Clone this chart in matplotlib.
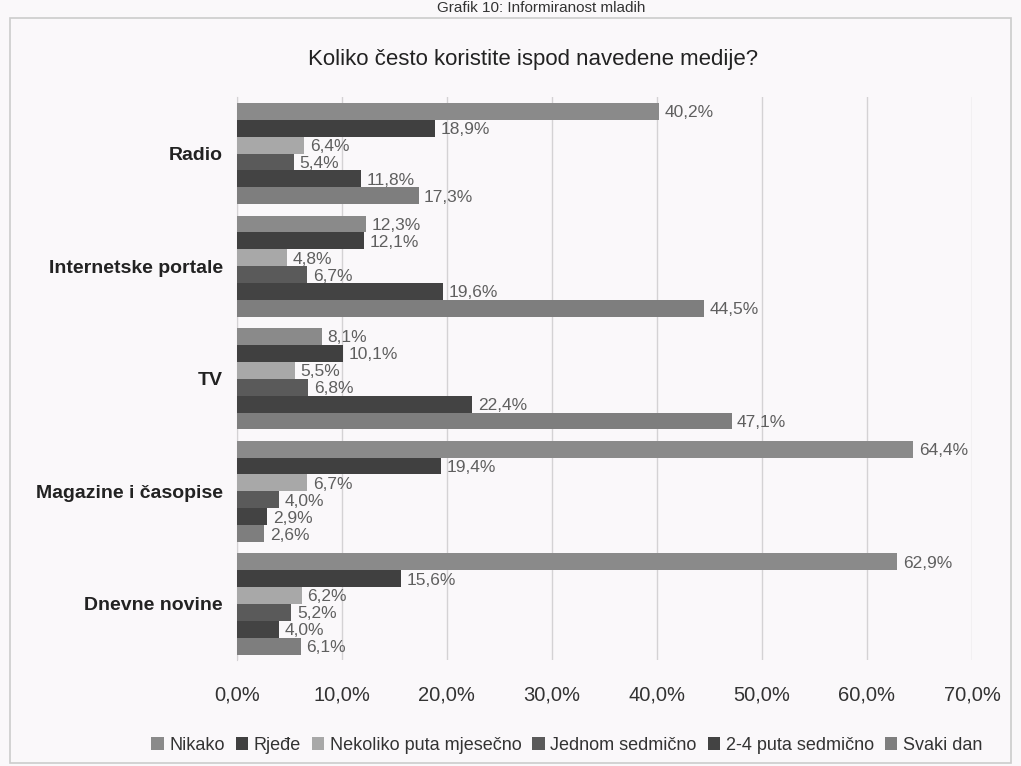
import matplotlib
matplotlib.use("Agg")
import matplotlib.pyplot as plt
from matplotlib.patches import Rectangle
import numpy as np

categories = ["Radio", "Internetske portale", "TV", "Magazine i časopise", "Dnevne novine"]
series_names = ["Nikako", "Rjeđe", "Nekoliko puta mjesečno", "Jednom sedmično",
                "2-4 puta sedmično", "Svaki dan"]
nikako = [40.2, 12.3, 8.1, 64.4, 62.9]
rjedje = [18.9, 12.1, 10.1, 19.4, 15.6]
nekoliko = [6.4, 4.8, 5.5, 6.7, 6.2]
jednom = [5.4, 6.7, 6.8, 4.0, 5.2]
dva_cetiri = [11.8, 19.6, 22.4, 2.9, 4.0]
svaki_dan = [17.3, 44.5, 47.1, 2.6, 6.1]
xticks = [0, 10, 20, 30, 40, 50, 60, 70]

series = [nikako, rjedje, nekoliko, jednom, dva_cetiri, svaki_dan]
colors = ["#8a8a8a", "#404040", "#a8a8a8", "#5a5a5a", "#434343", "#7e7e7e"]

plt.rcParams['font.family'] = ['Liberation Sans', 'DejaVu Sans']
bg = "#faf8fa"
fig = plt.figure(figsize=(10.21, 7.66), dpi=100, facecolor=bg)
ax = fig.add_axes([0.232, 0.138, 0.720, 0.735], facecolor=bg)

n_cat = len(categories)
bh = 0.15
centers = np.arange(n_cat)[::-1]  # Radio at top
for j, (vals, col, name) in enumerate(zip(series, colors, series_names)):
    ys = centers + (2.5 - j) * bh
    ax.barh(ys, vals, height=bh, color=col, label=name, zorder=3)
    for y, v in zip(ys, vals):
        ax.annotate(f"{v:.1f}%".replace(".", ","), (v, y), xytext=(4, -1),
                    textcoords="offset points", va="center", ha="left",
                    fontsize=12.5, color="#5f5f5f", zorder=4)

ax.set_xlim(0, 70)
ax.set_ylim(-0.5, n_cat - 0.5)
ax.set_xticks(xticks)
ax.set_xticklabels([f"{t:.1f}%".replace(".", ",") for t in xticks], fontsize=14.5,
                   color="#333333")
ax.set_yticks(centers)
ax.set_yticklabels(categories, fontsize=14, color="#222222", fontweight="bold")
ax.tick_params(axis="both", length=0, pad=10)
ax.tick_params(axis="x", pad=18)
ax.grid(axis="x", color="#d4d2d4", linewidth=1, zorder=0)
for s in ["top", "right", "bottom"]:
    ax.spines[s].set_visible(False)
ax.spines["left"].set_color("#d4d2d4")

fig.text(0.522, 0.922, "Koliko često koristite ispod navedene medije?", ha="center",
         va="center", fontsize=16, color="#222222")
fig.text(0.53, 0.990, "Grafik 10: Informiranost mladih", ha="center", va="center",
         fontsize=11, color="#333333")

fig.add_artist(Rectangle((0.010, 0.004), 0.980, 0.972, transform=fig.transFigure,
                         fill=False, edgecolor="#cccccc", linewidth=1.2))

leg = fig.legend(loc="center", bbox_to_anchor=(0.555, 0.027), ncol=6, frameon=False,
                 fontsize=13, handlelength=0.7, handleheight=0.7, handletextpad=0.3,
                 columnspacing=0.6)
for t in leg.get_texts():
    t.set_color("#333333")

fig.savefig("out.png", dpi=100, facecolor=bg)
